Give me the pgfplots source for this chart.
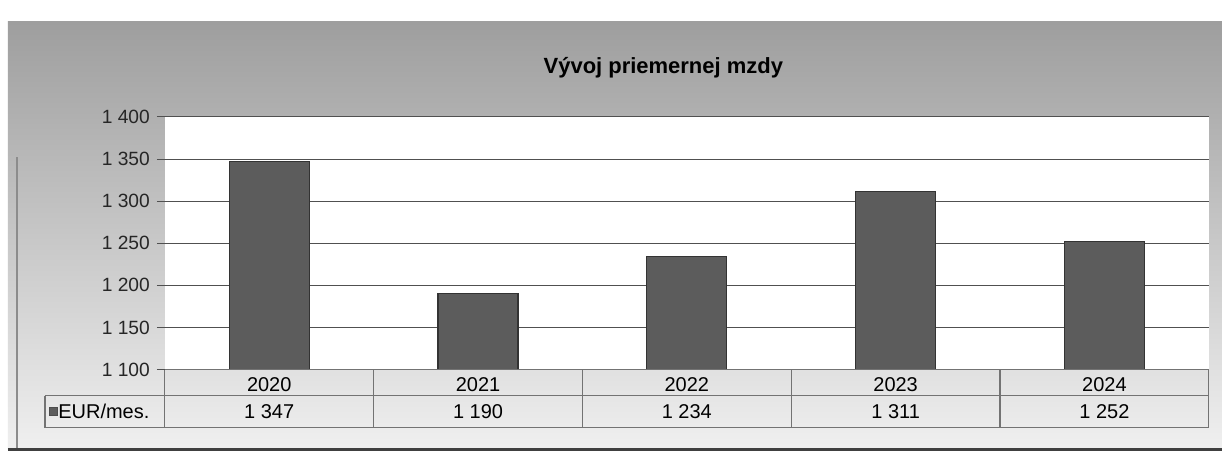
\documentclass[border=0pt]{standalone}
\usepackage{fontspec}
\setmainfont{Liberation Sans}
\usepackage{pgfplots}
\pgfplotsset{compat=1.18}
\definecolor{barfill}{HTML}{5C5C5C}
\definecolor{gridc}{HTML}{505050}
\begin{document}
\begin{tikzpicture}
% page
\fill[white] (0pt,0pt) rectangle (611.5pt,228.5pt);
% chart area with gradient
\shade[top color=black!38, bottom color=black!6] (4pt,3.5pt) rectangle (611.5pt,217.5pt);
\draw[black!45, line width=0.6pt] (8.5pt,3.5pt) -- (8.5pt,150pt);
\draw[black!75, line width=1.2pt] (4pt,3.5pt) -- (611.5pt,3.5pt);
% title
\node[font=\fontsize{11}{13}\selectfont\bfseries] at (332pt,194.5pt) {Vývoj priemernej mzdy};
\begin{axis}[
  at={(82.5pt,43.5pt)}, anchor=south west,
  scale only axis, width=522.5pt, height=126.5pt,
  xmin=-0.5, xmax=4.5, ymin=1100, ymax=1400,
  axis background/.style={fill=white},
  axis line style={draw=none},
  ytick={1100,1150,1200,1250,1300,1350,1400},
  yticklabels={1 100,1 150,1 200,1 250,1 300,1 350,1 400},
  ymajorgrids, grid style={gridc, line width=0.5pt},
  ytick style={gridc, line width=0.5pt},
  y tick label style={font=\fontsize{9.6}{11}\selectfont, color=black!85},
  ytick pos=left, tick align=outside, major tick length=4pt,
  xtick={0,1,2,3,4},
  xticklabels={2020,2021,2022,2023,2024},
  xtick style={draw=none},
  x tick label style={font=\fontsize{10}{11}\selectfont, anchor=center, yshift=-3.3pt},
  xticklabel shift=0pt,
  clip=false,
]
\addplot[ybar, bar width=40pt, fill=barfill, draw=black!80, line width=0.6pt, bar shift=0pt]
  coordinates {(0,1347) (1,1190) (2,1234) (3,1311) (4,1252)};
\node[font=\fontsize{10}{11}\selectfont] at (axis cs:0,1100) [yshift=-21pt] {1 347};
\node[font=\fontsize{10}{11}\selectfont] at (axis cs:1,1100) [yshift=-21pt] {1 190};
\node[font=\fontsize{10}{11}\selectfont] at (axis cs:2,1100) [yshift=-21pt] {1 234};
\node[font=\fontsize{10}{11}\selectfont] at (axis cs:3,1100) [yshift=-21pt] {1 311};
\node[font=\fontsize{10}{11}\selectfont] at (axis cs:4,1100) [yshift=-21pt] {1 252};
\end{axis}
% data table grid
\begin{scope}[black!55, line width=0.6pt]
\draw (82.5pt,43.5pt) -- (605pt,43.5pt);
\draw (22.5pt,30.5pt) -- (605pt,30.5pt);
\draw (22.5pt,14.5pt) -- (605pt,14.5pt);
\draw (22.5pt,30.5pt) -- (22.5pt,14.5pt);
\draw (82.5pt,43.5pt) -- (82.5pt,14.5pt);
\draw (187pt,43.5pt) -- (187pt,14.5pt);
\draw (291.5pt,43.5pt) -- (291.5pt,14.5pt);
\draw (396pt,43.5pt) -- (396pt,14.5pt);
\draw (500.5pt,43.5pt) -- (500.5pt,14.5pt);
\draw (605pt,43.5pt) -- (605pt,14.5pt);
\end{scope}
% legend key in table
\fill[barfill, draw=black!70, line width=0.4pt] (24.5pt,20.5pt) rectangle (28.5pt,24.5pt);
\node[anchor=west, font=\fontsize{10}{11}\selectfont, inner sep=0pt] at (29pt,22.5pt) {EUR/mes.};
\end{tikzpicture}
\end{document}
